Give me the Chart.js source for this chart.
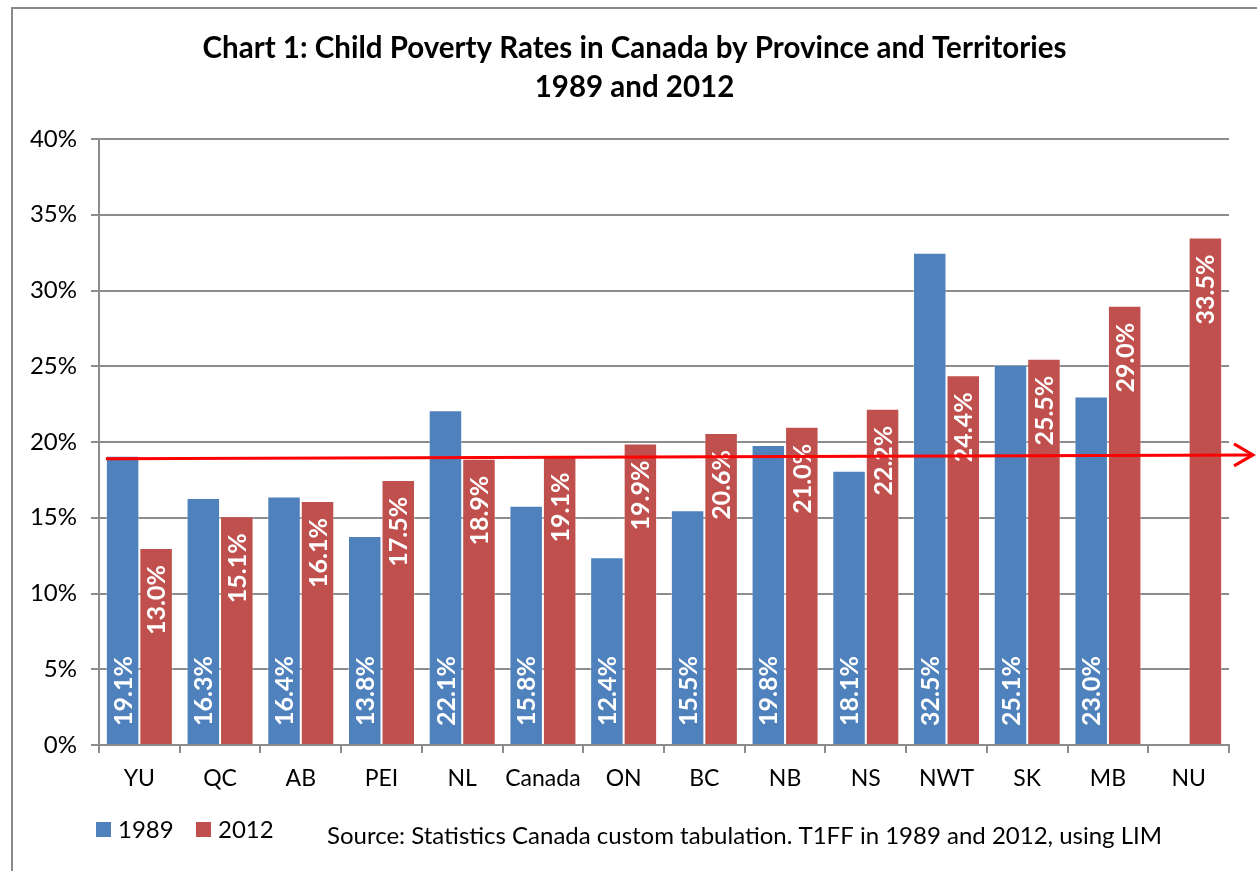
<!DOCTYPE html>
<html><head><meta charset="utf-8">
<script src="https://cdn.jsdelivr.net/npm/chart.js@4.4.1/dist/chart.umd.min.js"></script>
<style>
html,body{margin:0;padding:0;background:#fff;width:1257px;height:871px;overflow:hidden}
#frame{position:absolute;left:11px;top:7px;width:1300px;height:900px;border-left:2px solid #8a8a8a;border-top:2px solid #8a8a8a}
canvas{position:absolute;left:0;top:0}
</style></head><body>
<div id="frame"></div>
<canvas id="c" width="1257" height="871"></canvas>
<script>
const categories = ['YU','QC','AB','PEI','NL','Canada','ON','BC','NB','NS','NWT','SK','MB','NU'];
const values1989 = [19.1,16.3,16.4,13.8,22.1,15.8,12.4,15.5,19.8,18.1,32.5,25.1,23.0,null];
const values2012 = [13.0,15.1,16.1,17.5,18.9,19.1,19.9,20.6,21.0,22.2,24.4,25.5,29.0,33.5];
const seriesNames = ['1989','2012'];
const titleLines = ['Chart 1: Child Poverty Rates in Canada by Province and Territories','1989 and 2012'];
const sourceText = 'Source: Statistics Canada custom tabulation. T1FF in 1989 and 2012, using LIM';
const trendLine = [18.9, 19.15];
const yTicks = {min:0, max:40, step:5};

const FONT = 'Lato, "Open Sans", sans-serif';
const BLUE = '#4F81BD', RED = '#C0504D', GRID = '#8c8c8c';

const titlePlugin = {
  id:'customTitle',
  afterDraw(chart){
    const ctx = chart.ctx;
    ctx.save();
    ctx.font = 'bold 29.5px ' + FONT;
    ctx.fillStyle = '#000';
    ctx.textAlign = 'center';
    ctx.textBaseline = 'middle';
    ctx.fillText(titleLines[0], 634.5, 48);
    ctx.fillText(titleLines[1], 634.5, 87);
    ctx.restore();
  }
};

const labelPlugin = {
  id:'barLabels',
  afterDatasetsDraw(chart){
    const ctx = chart.ctx;
    ctx.save();
    ctx.font = 'bold 25px ' + FONT;
    ctx.fillStyle = '#fff';
    chart.data.datasets.forEach((ds, di) => {
      const meta = chart.getDatasetMeta(di);
      meta.data.forEach((bar, i) => {
        const v = ds.data[i];
        if (v == null) return;
        const txt = v.toFixed(1) + '%';
        ctx.save();
        ctx.translate(bar.x, 0);
        ctx.rotate(-Math.PI/2);
        ctx.textBaseline = 'middle';
        if (di === 0) {
          ctx.textAlign = 'left';
          ctx.fillText(txt, -(bar.base - 18), 1);
        } else {
          ctx.textAlign = 'right';
          ctx.fillText(txt, -(bar.y + 17), 1);
        }
        ctx.restore();
      });
    });
    ctx.restore();
  }
};

const arrowPlugin = {
  id:'arrow',
  afterDraw(chart){
    const ctx = chart.ctx, y = chart.scales.y;
    const m = chart.getDatasetMeta(0).data[0];
    const x0 = m.x - m.width/2;
    const x1 = chart.chartArea.right + 24;
    const y0 = y.getPixelForValue(trendLine[0]);
    const y1 = y.getPixelForValue(trendLine[1]);
    ctx.save();
    ctx.strokeStyle = '#ff0000';
    ctx.lineWidth = 3;
    ctx.beginPath(); ctx.moveTo(x0, y0); ctx.lineTo(x1, y1); ctx.stroke();
    ctx.beginPath(); ctx.moveTo(x1-19, y1-11); ctx.lineTo(x1, y1); ctx.lineTo(x1-19, y1+11); ctx.stroke();
    ctx.restore();
  }
};

const legendPlugin = {
  id:'legendSource',
  afterDraw(chart){
    const ctx = chart.ctx;
    ctx.save();
    ctx.font = '24px ' + FONT;
    ctx.textBaseline = 'middle';
    const yc = 829;
    const items = [[BLUE, seriesNames[0], 96],[RED, seriesNames[1], 196]];
    items.forEach(([col, name, lx]) => {
      ctx.fillStyle = col;
      ctx.fillRect(lx, yc-7, 15, 15);
      ctx.fillStyle = '#000';
      ctx.fillText(name, lx+22, yc+1);
    });
    ctx.textAlign = 'left';
    ctx.fillText(sourceText, 327, 836);
    ctx.restore();
  }
};

new Chart(document.getElementById('c'), {
  type:'bar',
  data:{
    labels: categories,
    datasets:[
      {label:seriesNames[0], data:values1989, backgroundColor:BLUE, borderColor:'rgba(255,255,255,0.35)', borderWidth:1, categoryPercentage:0.83, barPercentage:1.0},
      {label:seriesNames[1], data:values2012, backgroundColor:RED, borderColor:'rgba(255,255,255,0.35)', borderWidth:1, categoryPercentage:0.83, barPercentage:1.0}
    ]
  },
  options:{
    responsive:false,
    animation:false,
    layout:{padding:{left:15, right:28, top:139, bottom:76}},
    plugins:{
      legend:{display:false},
      tooltip:{enabled:false},
      title:{display:false}
    },
    scales:{
      x:{
        grid:{display:true, drawOnChartArea:false, drawTicks:true, tickLength:8, color:GRID, lineWidth:2},
        border:{display:true, color:GRID, width:2},
        ticks:{color:'#000', font:{family:FONT, size:23}, padding:12, maxRotation:0, minRotation:0, autoSkip:false},
        afterFit(s){ s.height = 50; }
      },
      y:{
        min:yTicks.min, max:yTicks.max,
        grid:{color:GRID, lineWidth:2, tickLength:8},
        border:{display:true, color:GRID, width:2},
        ticks:{stepSize:yTicks.step, color:'#000', font:{family:FONT, size:24}, padding:14,
          callback:v => v + '%'},
        afterFit(s){ s.width = 84; }
      }
    }
  },
  plugins:[labelPlugin, arrowPlugin, legendPlugin, titlePlugin]
});
</script>
</body></html>
